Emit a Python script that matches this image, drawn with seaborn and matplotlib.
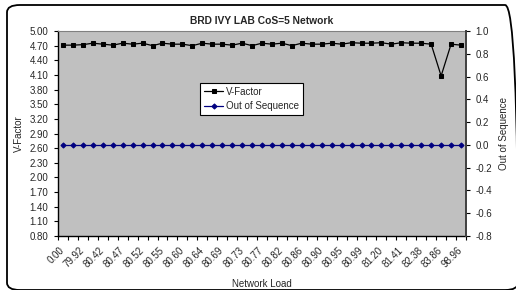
import matplotlib
matplotlib.use("Agg")
import matplotlib.pyplot as plt
from matplotlib.patches import FancyBboxPatch
from matplotlib.ticker import FixedLocator, FixedFormatter
import numpy as np
import pandas as pd
import seaborn as sns

# ---------------- data ----------------
network_load = ["0.00", "79.71", "79.92", "80.39", "80.42", "80.45", "80.47", "80.50",
                "80.52", "80.53", "80.55", "80.58", "80.60", "80.62", "80.64", "80.67",
                "80.69", "80.71", "80.73", "80.75", "80.77", "80.80", "80.82", "80.84",
                "80.86", "80.88", "80.90", "80.93", "80.95", "80.97", "80.99", "81.08",
                "81.20", "81.32", "81.41", "81.86", "82.38", "83.12", "83.86", "90.45",
                "98.96"]
v_factor = [4.71, 4.71, 4.72, 4.75, 4.73, 4.71, 4.75, 4.73, 4.75, 4.70,
            4.75, 4.73, 4.73, 4.70, 4.75, 4.73, 4.73, 4.71, 4.75, 4.70,
            4.75, 4.73, 4.75, 4.70, 4.75, 4.73, 4.73, 4.75, 4.73, 4.76,
            4.75, 4.75, 4.76, 4.73, 4.76, 4.75, 4.75, 4.73, 4.08, 4.73,
            4.71]
out_of_sequence = [0.0] * 41
left_ticks = [0.80, 1.10, 1.40, 1.70, 2.00, 2.30, 2.60, 2.90, 3.20, 3.50,
              3.80, 4.10, 4.40, 4.70, 5.00]
right_ticks = [-0.8, -0.6, -0.4, -0.2, 0.0, 0.2, 0.4, 0.6, 0.8, 1.0]

title = "BRD IVY LAB CoS=5 Network"

# ---------------- style ----------------
sns.set_style("ticks")
plt.rcParams["font.family"] = ["Liberation Sans", "DejaVu Sans"]
FS = 7

df = pd.DataFrame({"pos": np.arange(len(network_load)),
                   "load": network_load,
                   "V-Factor": v_factor,
                   "Out of Sequence": out_of_sequence})

W, H = 516, 290
fig = plt.figure(figsize=(W / 100, H / 100), dpi=100)
fig.patch.set_facecolor("white")

# chart border (rounded)
border = FancyBboxPatch((7 / W, 0 / H), (518 - 7) / W, (285 - 0) / H,
                        boxstyle="round,pad=0,rounding_size=0.025",
                        transform=fig.transFigure, fill=False,
                        edgecolor="black", linewidth=1.3, clip_on=False)
fig.patches.append(border)

L, R, T, B = 58, 466, 31, 236
ax = fig.add_axes([L / W, 1 - B / H, (R - L) / W, (B - T) / H])
ax.set_facecolor("#C0C0C0")
ax2 = ax.twinx()

sns.lineplot(data=df, x="pos", y="V-Factor", ax=ax, color="black",
             marker="s", markersize=3.5, markeredgecolor="black",
             linewidth=0.9, sort=False, label="V-Factor")
sns.lineplot(data=df, x="pos", y="Out of Sequence", ax=ax2, color="#000080",
             marker="D", markersize=2.6, markeredgecolor="#000080",
             linewidth=0.9, sort=False, label="Out of Sequence")
for a in (ax, ax2):
    if a.get_legend() is not None:
        a.get_legend().remove()

n = len(network_load)
ax.set_xlim(-0.5, n - 0.5)
ax.set_ylim(0.8, 5.0)
ax2.set_ylim(-0.8, 1.0)

# x ticks: boundaries as minor ticks, labels every other category
ax.xaxis.set_minor_locator(FixedLocator(np.arange(n + 1) - 0.5))
major_pos = list(range(0, n, 2))
ax.xaxis.set_major_locator(FixedLocator(major_pos))
ax.xaxis.set_major_formatter(FixedFormatter([network_load[i] for i in major_pos]))
ax.tick_params(axis="x", which="minor", length=3, width=0.8, direction="out", color="black")
ax.tick_params(axis="x", which="major", length=0, pad=9, labelsize=FS)
for lab in ax.get_xticklabels():
    lab.set_rotation(45)
    lab.set_ha("right")
    lab.set_va("center")
    lab.set_rotation_mode("anchor")

ax.set_yticks(left_ticks)
ax.set_yticklabels([f"{v:.2f}" for v in left_ticks])
ax.tick_params(axis="y", length=3, width=0.8, direction="out", labelsize=FS, pad=4, color="black")
ax2.set_yticks(right_ticks)
ax2.set_yticklabels([f"{v:.1f}" for v in right_ticks])
ax2.tick_params(axis="y", length=3, width=0.8, direction="out", labelsize=FS, pad=4, color="black")

ax.set_xlabel("Network Load", fontsize=FS, labelpad=7)
ax.set_ylabel("V-Factor", fontsize=FS, labelpad=4)
ax2.set_ylabel("Out of Sequence", fontsize=FS, rotation=90, labelpad=5)

for s in ("left", "bottom"):
    ax.spines[s].set_color("black")
    ax.spines[s].set_linewidth(1.0)
ax.spines["top"].set_color("#808080")
ax.spines["top"].set_linewidth(0.8)
ax.spines["right"].set_visible(False)
ax2.spines["right"].set_color("#404040")
ax2.spines["right"].set_linewidth(1.4)
ax2.spines["top"].set_visible(False)
ax2.spines["left"].set_visible(False)
ax2.spines["bottom"].set_visible(False)

# legend
h1, l1 = ax.get_legend_handles_labels()
h2, l2 = ax2.get_legend_handles_labels()
leg = ax2.legend(h1 + h2, l1 + l2, loc="upper left", bbox_to_anchor=(0.348, 0.748),
                 fontsize=FS, frameon=True, fancybox=False, framealpha=1,
                 edgecolor="black", handlelength=2.0, handletextpad=0.3,
                 labelspacing=0.5, borderpad=0.4, borderaxespad=0)
leg.get_frame().set_linewidth(0.8)

fig.text(262 / W, 1 - 21 / H, title, ha="center", va="center",
         fontsize=7.4, fontweight="bold")

fig.savefig("out.png", dpi=100, facecolor="white")
